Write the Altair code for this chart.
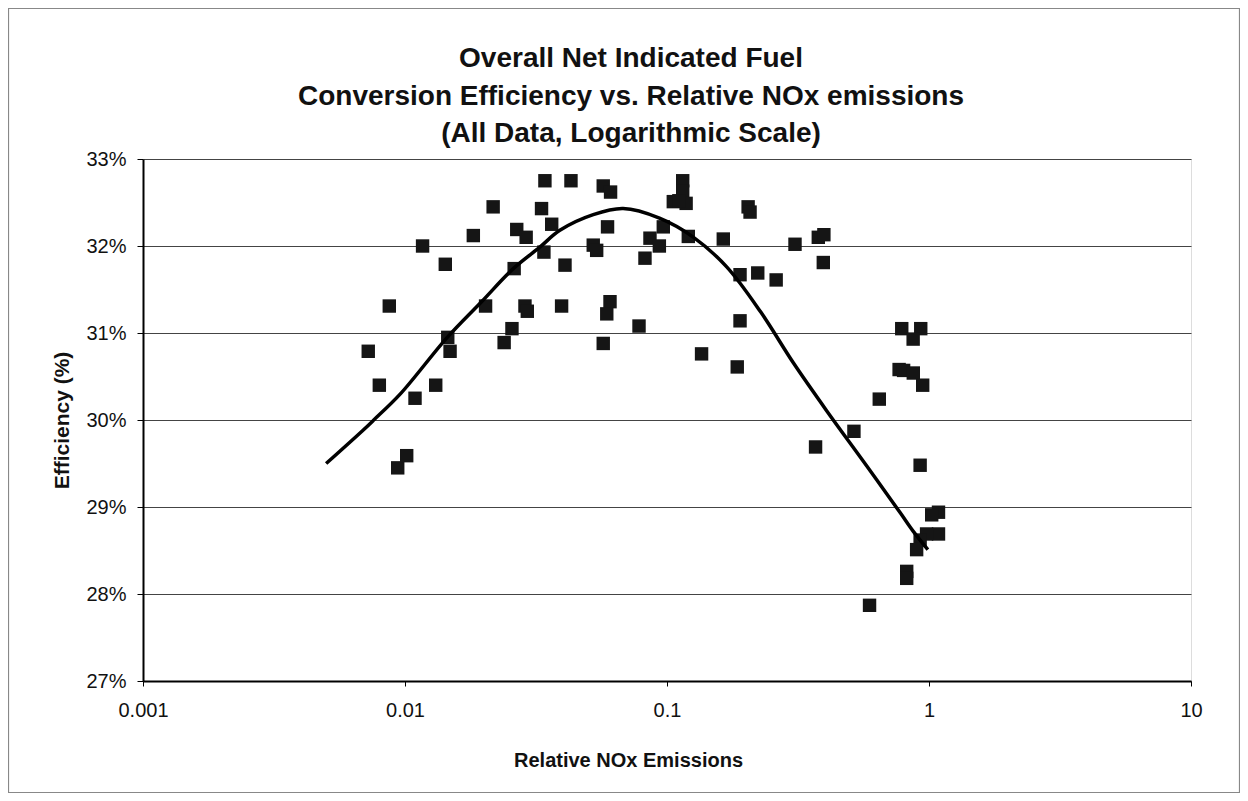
import altair as alt
import pandas as pd

# Scatter data: relative NOx emissions (x) and efficiency in % (y)
nox = [0.00724, 0.00798, 0.00871, 0.00938, 0.01015, 0.01092, 0.01167, 0.01310, 0.01425, 0.01456,
       0.01486, 0.01823, 0.0203, 0.0217, 0.0239, 0.0256, 0.0261, 0.0267, 0.0290, 0.0287,
       0.0293, 0.0332, 0.0342, 0.0339, 0.0363, 0.0396, 0.0408, 0.0430, 0.0523, 0.0539,
       0.0571, 0.0609, 0.0593, 0.0606, 0.0589, 0.0571, 0.0782, 0.0824, 0.0861, 0.0935,
       0.0968, 0.1057, 0.1148, 0.1148, 0.1183, 0.1206, 0.1355, 0.164, 0.1854, 0.190,
       0.190, 0.204, 0.2075, 0.222, 0.261, 0.308, 0.369, 0.378, 0.397, 0.395,
       0.517, 0.593, 0.646, 0.787, 0.769, 0.80, 0.871, 0.93, 0.87, 0.946,
       0.925, 1.087, 1.024, 1.087, 0.979, 0.925, 0.897, 0.822, 0.822, 0.1110]
eff = [30.79, 30.40, 31.31, 29.45, 29.59, 30.25, 32.00, 30.40, 31.79, 30.95,
       30.79, 32.12, 31.31, 32.45, 30.89, 31.05, 31.74, 32.19, 32.10, 31.31,
       31.25, 32.43, 32.75, 31.93, 32.25, 31.31, 31.78, 32.75, 32.01, 31.95,
       32.69, 32.62, 32.22, 31.36, 31.22, 30.88, 31.08, 31.86, 32.09, 32.00,
       32.22, 32.51, 32.75, 32.63, 32.49, 32.11, 30.76, 32.08, 30.61, 31.67,
       31.14, 32.45, 32.39, 31.69, 31.61, 32.02, 29.69, 32.10, 32.13, 31.81,
       29.87, 27.87, 30.24, 31.05, 30.58, 30.57, 30.54, 31.05, 30.93, 30.40,
       29.48, 28.94, 28.91, 28.69, 28.69, 28.62, 28.51, 28.26, 28.18, 32.52]

# Trend curve
curve_x = [0.0050, 0.0069, 0.0076, 0.0096, 0.0145, 0.0196, 0.0259, 0.0328, 0.0390, 0.0523,
           0.068, 0.0936, 0.1263, 0.169, 0.228, 0.303, 0.406, 0.576, 0.778, 0.871, 0.99]
curve_y = [29.50, 29.88, 30.00, 30.30, 30.95, 31.36, 31.74, 31.99, 32.18, 32.36,
           32.43, 32.32, 32.10, 31.76, 31.24, 30.66, 30.11, 29.48, 28.93, 28.72, 28.51]

x_ticks = [0.001, 0.01, 0.1, 1, 10]
y_ticks = [0.27, 0.28, 0.29, 0.30, 0.31, 0.32, 0.33]

title_lines = ["Overall Net Indicated Fuel",
               "Conversion Efficiency vs. Relative NOx emissions",
               "(All Data, Logarithmic Scale)"]

pts = pd.DataFrame({"x": nox, "y": [v / 100 for v in eff]})
crv = pd.DataFrame({"x": curve_x, "y": [v / 100 for v in curve_y], "o": list(range(len(curve_x)))})

FONT = "Liberation Sans"
W, H = 1048, 522
PL, PT, PR, PB = 135, 151, 49, 112
TITLE_X, TITLE_TOP, TITLE_LH = 488, -100, 37.5

xscale = alt.Scale(type="log", domain=[0.001, 10], nice=False)
yscale = alt.Scale(domain=[0.27, 0.33], nice=False, zero=False)

xaxis = alt.Axis(values=x_ticks, format="~g", grid=False, tickSize=5, tickColor="#000",
                 domainColor="#000", domainWidth=2, labelFontSize=20, labelFont=FONT,
                 labelColor="#111", labelPadding=14, labelFlush=False,
                 title="Relative NOx Emissions", titleFont=FONT, titleFontSize=20,
                 titleFontWeight="bold", titleColor="#111", titleX=485, titleY=79,
                 titleBaseline="middle", titleAlign="center")
yaxis = alt.Axis(values=y_ticks, format=".0%", grid=True, gridColor="#444", gridWidth=1.2,
                 tickSize=6, tickColor="#000", domainColor="#000", domainWidth=2,
                 labelFontSize=20, labelFont=FONT, labelColor="#111", labelPadding=11,
                 labelFlush=False,
                 title="Efficiency (%)", titleFont=FONT, titleFontSize=21,
                 titleFontWeight="bold", titleColor="#111", titleX=-81, titleY=H / 2,
                 titleAngle=270, titleBaseline="middle", titleAlign="center")

one = pd.DataFrame({"a": [0]})

frame = alt.Chart(one).mark_rect(
    fill=None, stroke="#888", strokeWidth=1.2, clip=False
).encode(
    x=alt.value(-PL + 0.5), x2=alt.value(W + PR - 0.5),
    y=alt.value(-PT + 0.5), y2=alt.value(H + PB - 0.5)
)

title_layers = [
    alt.Chart(one).mark_text(
        text=line_text, font=FONT, fontSize=28, fontWeight="bold", color="#111",
        align="center", baseline="middle", clip=False
    ).encode(x=alt.value(TITLE_X), y=alt.value(TITLE_TOP + i * TITLE_LH))
    for i, line_text in enumerate(title_lines)
]

scatter = alt.Chart(pts).mark_point(
    shape="square", filled=True, size=180, color="#151515", opacity=1
).encode(
    x=alt.X("x:Q", scale=xscale, axis=xaxis),
    y=alt.Y("y:Q", scale=yscale, axis=yaxis)
)

line = alt.Chart(crv).mark_line(
    color="#000", strokeWidth=3.5, interpolate="catmull-rom"
).encode(
    x=alt.X("x:Q", scale=xscale),
    y=alt.Y("y:Q", scale=yscale),
    order="o:Q"
)

chart = alt.layer(frame, scatter, line, *title_layers).properties(
    width=W, height=H,
    autosize=alt.AutoSizeParams(type="none"),
    padding={"left": PL, "top": PT, "right": PR, "bottom": PB}
).configure_view(
    stroke="#000", strokeWidth=2
).configure(background="white")

chart.save("out.html", embed_options={"renderer": "svg", "actions": False})
